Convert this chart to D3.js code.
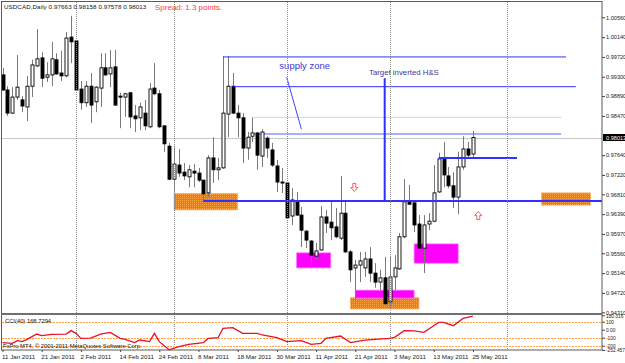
<!DOCTYPE html>
<html>
  <head>
    <meta charset="utf-8">
    <script src="https://d3js.org/d3.v7.min.js"></script>
    <style>
      body { margin: 0; background: #fff; }
      svg { display: block; font-family: "Liberation Sans", Arial, sans-serif; }
    </style>
  </head>
  <body>
    <script>
      // USDCAD daily, 11 Jan 2011 .. 25 May 2011 (bar 0 .. 96)
      var opens = [0.9934,0.9902,0.9853,0.9887,0.9881,0.9866,0.9910,0.9953,0.9970,0.9929,
        0.9934,0.9966,0.9938,0.9932,1.0014,1.0006,0.9904,0.9875,0.9910,0.9877,
        0.9906,0.9949,0.9936,0.9951,0.9889,0.9887,0.9896,0.9847,0.9843,0.9853,
        0.9824,0.9906,0.9894,0.9826,0.9783,0.9713,0.9743,0.9728,0.9718,0.9730,
        0.9726,0.9711,0.9684,0.9758,0.9733,0.9737,0.9851,0.9910,0.9853,0.9843,
        0.9779,0.9804,0.9811,0.9762,0.9800,0.9775,0.9741,0.9707,0.9705,0.9635,
        0.9667,0.9637,0.9603,0.9582,0.9550,0.9563,0.9633,0.9622,0.9612,0.9588,
        0.9641,0.9559,0.9525,0.9531,0.9525,0.9544,0.9514,0.9495,0.9504,0.9453,
        0.9506,0.9523,0.9591,0.9665,0.9663,0.9618,0.9567,0.9618,0.9624,0.9686,
        0.9756,0.9720,0.9699,0.9675,0.9739,0.9777,0.97663]
      var highs = [0.9949,0.9910,0.9908,0.9976,0.9889,0.9932,0.9966,1.0031,0.9982,0.9961,
        1.0004,0.9980,0.9985,1.0025,1.0059,1.0006,0.9921,0.9921,0.9938,0.9910,
        0.9980,0.9980,0.9987,0.9987,0.9896,0.9896,0.9898,0.9870,0.9875,0.9881,
        0.9917,0.9959,0.9902,0.9826,0.9790,0.9781,0.9777,0.9747,0.9743,0.9745,
        0.9737,0.9711,0.9764,0.9802,0.9758,0.9974,0.9974,0.9938,0.9870,0.9853,
        0.9813,0.9843,0.9813,0.9819,0.9804,0.9790,0.9754,0.9737,0.9705,0.9694,
        0.9686,0.9654,0.9605,0.9584,0.9578,0.9656,0.9648,0.9669,0.9652,0.9720,
        0.9669,0.9563,0.9542,0.9559,0.9559,0.9569,0.9535,0.9521,0.9548,0.9548,
        0.9552,0.9599,0.9713,0.9701,0.9663,0.9637,0.9637,0.9641,0.9743,0.9769,
        0.9792,0.9739,0.9728,0.9771,0.9804,0.9792,0.98158]
      var lows = [0.9900,0.9847,0.9851,0.9881,0.9855,0.9836,0.9887,0.9951,0.9908,0.9919,
        0.9910,0.9934,0.9921,0.9929,0.9959,0.9900,0.9860,0.9866,0.9832,0.9855,
        0.9866,0.9932,0.9908,0.9868,0.9821,0.9845,0.9821,0.9813,0.9817,0.9817,
        0.9821,0.9891,0.9821,0.9771,0.9711,0.9684,0.9718,0.9711,0.9696,0.9696,
        0.9707,0.9663,0.9675,0.9705,0.9711,0.9735,0.9802,0.9851,0.9802,0.9747,
        0.9754,0.9792,0.9733,0.9739,0.9758,0.9739,0.9686,0.9684,0.9630,0.9616,
        0.9635,0.9569,0.9567,0.9525,0.9542,0.9561,0.9599,0.9584,0.9588,0.9584,
        0.9557,0.9495,0.9457,0.9495,0.9506,0.9495,0.9483,0.9478,0.9447,0.9442,
        0.9478,0.9521,0.9588,0.9658,0.9601,0.9567,0.9514,0.9605,0.9622,0.9684,
        0.9696,0.9694,0.9652,0.9639,0.9733,0.9756,0.97578]
      var closes = [0.9902,0.9853,0.9887,0.9908,0.9868,0.9910,0.9955,0.9968,0.9927,0.9934,
        0.9968,0.9936,0.9932,1.0012,1.0004,0.9902,0.9875,0.9910,0.9870,0.9908,
        0.9949,0.9934,0.9949,0.9870,0.9887,0.9894,0.9845,0.9841,0.9866,0.9826,
        0.9904,0.9894,0.9824,0.9788,0.9713,0.9745,0.9726,0.9720,0.9733,0.9726,
        0.9711,0.9682,0.9758,0.9733,0.9737,0.9853,0.9910,0.9853,0.9843,0.9779,
        0.9802,0.9811,0.9764,0.9813,0.9779,0.9743,0.9707,0.9705,0.9631,0.9669,
        0.9637,0.9605,0.9584,0.9552,0.9561,0.9633,0.9620,0.9610,0.9591,0.9641,
        0.9559,0.9521,0.9531,0.9540,0.9544,0.9514,0.9495,0.9504,0.9449,0.9506,
        0.9525,0.9591,0.9665,0.9660,0.9616,0.9567,0.9616,0.9624,0.9684,0.9756,
        0.9722,0.9699,0.9675,0.9739,0.9777,0.9764,0.98013]

      // CCI(40) read at these bars
      var cciBars = [0,2,3,4,5,7,8,10,13,14,15,16,18,20,22,24,25,27,28,30,31,32,34,36,38,41,42,44,45,47,
        49,52,53,56,58,61,63,65,66,69,71,74,76,79,80,82,84,86,87,89,90,92,94,96]
      var cciValues = [-161,-170,-136,-149,-120,-54,-74,-58,-54,-11,-45,-108,-104,-54,-33,-108,-120,-161,-129,-149,-45,-149,-252,-211,-183,-161,-108,-100,17,26,
        -45,-45,-66,-100,-149,-136,-183,-170,-108,-79,-161,-129,-120,-108,-95,-11,-15,-33,9,92,92,50,142,168.73]
      var cciLevels = [100, -100, -200]

      var priceTicks = [1.00560,1.00140,0.99720,0.99300,0.98890,0.98470,0.97640,0.97220,0.96810,0.96390,0.95970,0.95560,0.95140,0.94720,0.94310]
      var cciTicks = [180.316, 100, 0, -100, -200, -252.457]
      var cciTickLabels = ["180.316", "100", "0.00", "-100", "-200", "-252.457"]
      var timeTickBars = [0,8,16,24,32,40,48,56,64,72,80,88,96]
      var timeTickLabels = ["11 Jan 2011","21 Jan 2011","2 Feb 2011","14 Feb 2011","24 Feb 2011","8 Mar 2011",
        "18 Mar 2011","30 Mar 2011","11 Apr 2011","21 Apr 2011","3 May 2011","13 May 2011","25 May 2011"]
      var monthBars = [15, 35, 58, 79, 103]
      var bid = 0.98013

      // drawn objects, in bar / price units
      var orangeBoxes = [[35, 48, 0.9683, 0.9648], [110, 120, 0.9684, 0.9658], [71, 85, 0.9462, 0.9438]]
      var magentaBoxes = [[60, 67, 0.9557, 0.9525], [84, 93, 0.9576, 0.9535], [72, 84, 0.9478, 0.9461]]
      var hLines = [[45, 115, 0.9972, 1], [47, 117, 0.9909, 1], [41, 122.7, 0.9667, 2], [89, 105, 0.9758, 2]]
      var supplyRect = [51, 114, 0.9844, 0.9809]
      var trendLine = [58, 0.9929, 61, 0.9819]
      var targetLine = [78, 0.9927, 0.9667]
      var downArrows = [[71.8, 0.96954]]
      var upArrows = [[97.1, 0.96361]]

      var width = 625, height = 363

      var x = d3.scaleLinear().domain([0, 96]).range([2.5, 472.9])
      var y = d3.scaleLinear().domain([0.94310, 1.00560]).range([312.3, 17.3])
      var yc = d3.scaleLinear().domain([-252.457, 180.316]).range([349.9, 315.3])

      var svg = d3.select("body").append("svg")
        .attr("width", width)
        .attr("height", height)

      var defs = svg.append("defs")
      var pat = defs.append("pattern")
        .attr("id", "hatch")
        .attr("width", 2).attr("height", 2)
        .attr("patternUnits", "userSpaceOnUse")
      pat.append("rect").attr("width", 2).attr("height", 2).attr("fill", "#f27a00")
      pat.append("rect").attr("width", 1).attr("height", 1).attr("fill", "#ffa445")
      defs.append("clipPath").attr("id", "mainclip")
        .append("rect").attr("x", 1).attr("y", 1).attr("width", 601).attr("height", 312)

      var main = svg.append("g").attr("clip-path", "url(#mainclip)")

      // boxes first, candles go over them
      main.selectAll(".obox").data(orangeBoxes).enter().append("rect")
        .attr("x", function(d) { return x(d[0]) })
        .attr("y", function(d) { return y(d[2]) })
        .attr("width", function(d) { return x(d[1]) - x(d[0]) })
        .attr("height", function(d) { return y(d[3]) - y(d[2]) })
        .attr("fill", "url(#hatch)")
        .attr("stroke", "#ffb36b")
        .attr("stroke-width", 0.8)

      main.selectAll(".mbox").data(magentaBoxes).enter().append("rect")
        .attr("x", function(d) { return x(d[0]) })
        .attr("y", function(d) { return y(d[2]) })
        .attr("width", function(d) { return x(d[1]) - x(d[0]) })
        .attr("height", function(d) { return y(d[3]) - y(d[2]) })
        .attr("fill", "#ff00ff")
        .attr("stroke", "#ff7fff")
        .attr("stroke-width", 0.8)

      // month separators
      svg.selectAll(".grid").data(monthBars).enter().append("line")
        .attr("x1", function(d) { return Math.round(x(d)) + 0.5 })
        .attr("x2", function(d) { return Math.round(x(d)) + 0.5 })
        .attr("y1", 2).attr("y2", 350)
        .attr("stroke", "#8a8a8a")
        .attr("stroke-dasharray", "1,1")

      // bid line
      main.append("line")
        .attr("x1", 1).attr("x2", 602)
        .attr("y1", Math.round(y(bid)) + 0.5).attr("y2", Math.round(y(bid)) + 0.5)
        .attr("stroke", "#c8c8c8")

      // light supply zone: dotted top, solid bottom, left edge
      main.append("line")
        .attr("x1", x(supplyRect[0])).attr("x2", x(supplyRect[1]))
        .attr("y1", y(supplyRect[2])).attr("y2", y(supplyRect[2]))
        .attr("stroke", "#9aa0ff").attr("stroke-dasharray", "1,1")
      main.append("line")
        .attr("x1", x(supplyRect[0])).attr("x2", x(supplyRect[1]))
        .attr("y1", y(supplyRect[3])).attr("y2", y(supplyRect[3]))
        .attr("stroke", "#aab0ff").attr("stroke-width", 2)
      main.append("line")
        .attr("x1", x(supplyRect[0])).attr("x2", x(supplyRect[0]))
        .attr("y1", y(supplyRect[2])).attr("y2", y(supplyRect[3]))
        .attr("stroke", "#aab0ff")

      // candles
      var bars = d3.range(opens.length)
      var candle = main.selectAll(".candle").data(bars).enter().append("g")
      candle.append("line")
        .attr("x1", function(i) { return Math.round(x(i)) + 0.5 })
        .attr("x2", function(i) { return Math.round(x(i)) + 0.5 })
        .attr("y1", function(i) { return y(highs[i]) })
        .attr("y2", function(i) { return y(lows[i]) })
        .attr("stroke", "#7a7a7a")
      candle.append("rect")
        .attr("x", function(i) { return Math.round(x(i)) - 1 })
        .attr("y", function(i) { return y(Math.max(opens[i], closes[i])) })
        .attr("width", 3)
        .attr("height", function(i) { return Math.max(1, Math.abs(y(opens[i]) - y(closes[i]))) })
        .attr("fill", function(i) { return closes[i] >= opens[i] ? "#fff" : "#000" })
        .attr("stroke", "#000")
        .attr("stroke-width", 0.9)

      // blue lines
      main.selectAll(".hline").data(hLines).enter().append("line")
        .attr("x1", function(d) { return x(d[0]) })
        .attr("x2", function(d) { return x(d[1]) })
        .attr("y1", function(d) { return y(d[2]) })
        .attr("y2", function(d) { return y(d[2]) })
        .attr("stroke", "#3030ff")
        .attr("stroke-width", function(d) { return d[3] })

      main.append("line")
        .attr("x1", x(trendLine[0])).attr("y1", y(trendLine[1]))
        .attr("x2", x(trendLine[2])).attr("y2", y(trendLine[3]))
        .attr("stroke", "#4040ff")

      main.append("line")
        .attr("x1", x(targetLine[0])).attr("x2", x(targetLine[0]))
        .attr("y1", y(targetLine[1])).attr("y2", y(targetLine[2]))
        .attr("stroke", "#3030ff")
        .attr("stroke-width", 2)

      main.append("text")
        .attr("x", x(56.5)).attr("y", y(0.99475))
        .attr("font-size", "9.5px")
        .attr("fill", "#3a3ac8")
        .text("supply zone")

      main.append("text")
        .attr("x", x(74.8)).attr("y", y(0.99327))
        .attr("font-size", "7.8px")
        .attr("fill", "#3a3a9a")
        .text("Target inverted H&S")

      // red hollow arrows
      function arrowPath(cx, cy, dir) {
        var s = dir
        return "M" + (cx - 1.5) + "," + (cy - 4 * s) + "L" + (cx + 1.5) + "," + (cy - 4 * s) +
          "L" + (cx + 1.5) + "," + cy + "L" + (cx + 3.5) + "," + cy + "L" + cx + "," + (cy + 4 * s) +
          "L" + (cx - 3.5) + "," + cy + "L" + (cx - 1.5) + "," + cy + "Z"
      }
      main.selectAll(".darrow").data(downArrows).enter().append("path")
        .attr("d", function(d) { return arrowPath(x(d[0]), y(d[1]), 1) })
        .attr("fill", "#fff").attr("stroke", "#ff4a4a").attr("stroke-width", 0.9)
      main.selectAll(".uarrow").data(upArrows).enter().append("path")
        .attr("d", function(d) { return arrowPath(x(d[0]), y(d[1]), -1) })
        .attr("fill", "#fff").attr("stroke", "#ff4a4a").attr("stroke-width", 0.9)

      // CCI panel
      svg.selectAll(".lvl").data(cciLevels).enter().append("line")
        .attr("x1", 2).attr("x2", 602)
        .attr("y1", function(d) { return Math.round(yc(d)) + 0.5 })
        .attr("y2", function(d) { return Math.round(yc(d)) + 0.5 })
        .attr("stroke", "#ffa347")
        .attr("stroke-dasharray", "2,1")

      var cciLine = d3.line()
        .x(function(d, i) { return x(cciBars[i]) })
        .y(function(d) { return yc(d) })
      svg.append("path")
        .attr("d", cciLine(cciValues))
        .attr("fill", "none")
        .attr("stroke", "#e8102c")
        .attr("stroke-width", 1.3)

      // frame and separator
      svg.append("rect")
        .attr("x", 1.5).attr("y", 1.5)
        .attr("width", 600.5).attr("height", 348.5)
        .attr("fill", "none")
        .attr("stroke", "#5a5a5a")
      svg.append("line")
        .attr("x1", 1).attr("x2", 602)
        .attr("y1", 314).attr("y2", 314)
        .attr("stroke", "#707070")
        .attr("stroke-width", 2)

      // axes
      var pAxis = svg.append("g")
        .attr("transform", "translate(602,0)")
        .call(d3.axisRight(y).tickValues(priceTicks).tickFormat(d3.format(".5f")).tickSize(3).tickPadding(1))
      pAxis.select(".domain").remove()
      pAxis.selectAll("text").attr("font-size", "5.6px").attr("fill", "#222").attr("font-family", "Liberation Sans, Arial, sans-serif")
      pAxis.selectAll("line").attr("stroke", "#444")

      var bidLabel = svg.append("g").attr("transform", "translate(603," + y(bid) + ")")
      bidLabel.append("rect").attr("x", 0).attr("y", -3.5).attr("width", 22).attr("height", 7).attr("fill", "#000")
      bidLabel.append("text").attr("x", 3).attr("y", 2).attr("font-size", "5.6px").attr("fill", "#fff").text(d3.format(".5f")(bid))

      var cAxis = svg.append("g")
        .attr("transform", "translate(602,0)")
        .call(d3.axisRight(yc).tickValues(cciTicks).tickFormat(function(d, i) { return cciTickLabels[i] }).tickSize(3).tickPadding(1))
      cAxis.select(".domain").remove()
      cAxis.selectAll("text").attr("font-size", "4.8px").attr("fill", "#222").attr("font-family", "Liberation Sans, Arial, sans-serif")
      cAxis.selectAll("text").filter(function(d) { return d === cciTicks[0] }).attr("dy", "0.55em")
      cAxis.selectAll("line").attr("stroke", "#444")

      var tAxis = svg.append("g")
        .attr("transform", "translate(0,350)")
        .call(d3.axisBottom(x).tickValues(timeTickBars).tickFormat(function(d, i) { return timeTickLabels[i] }).tickSize(2).tickPadding(3))
      tAxis.select(".domain").remove()
      tAxis.selectAll("text")
        .attr("text-anchor", "start")
        .attr("dx", "-1")
        .attr("font-size", "6.2px").attr("fill", "#222").attr("font-family", "Liberation Sans, Arial, sans-serif")
      tAxis.selectAll("line").attr("stroke", "#444")

      // titles
      svg.append("text")
        .attr("x", 4).attr("y", 8.5)
        .attr("font-size", "6.2px").attr("fill", "#111")
        .attr("letter-spacing", "0.1px")
        .text("USDCAD,Daily  0.97663 0.98158 0.97578 0.98013")
      svg.append("text")
        .attr("x", 155).attr("y", 10)
        .attr("font-size", "8px").attr("fill", "#ff3b3b")
        .text("Spread: 1.3 points.")
      svg.append("text")
        .attr("x", 5).attr("y", 322.5)
        .attr("font-size", "5.8px").attr("fill", "#111")
        .text("CCI(40) 168.7294")
      svg.append("text")
        .attr("x", 3).attr("y", 348)
        .attr("font-size", "5.8px").attr("fill", "#111")
        .text("FxPro MT4, \u00a9 2001-2011 MetaQuotes Software Corp.")
    </script>
  </body>
</html>
